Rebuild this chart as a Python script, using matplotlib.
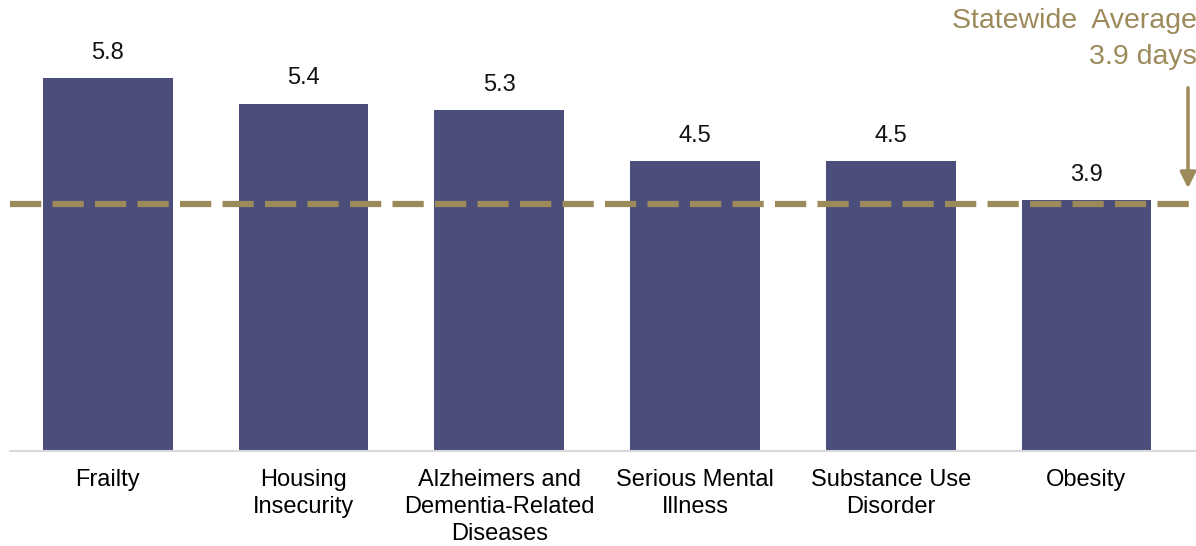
import matplotlib
matplotlib.use("Agg")
import matplotlib.pyplot as plt

categories = ["Frailty", "Housing\nInsecurity", "Alzheimers and\nDementia-Related\nDiseases",
              "Serious Mental\nIllness", "Substance Use\nDisorder", "Obesity"]
values = [5.8, 5.4, 5.3, 4.5, 4.5, 3.9]
state_avg = 3.9

bar_color = "#4B4D7B"
gold = "#9C8A5B"

plt.rcParams['font.family'] = ['Liberation Sans', 'DejaVu Sans']

fig = plt.figure(figsize=(11.96, 5.46), dpi=100)
ax = fig.add_axes([10 / 1196, 95 / 546, 1 - 10 / 1196, 451 / 546])

x = range(len(categories))
bars = ax.bar(x, values, width=0.663, color=bar_color, zorder=2)
for xi, v in zip(x, values):
    ax.text(xi, v + 0.22, f"{v:.1f}", ha="center", va="bottom", fontsize=17, color="#111111")

ax.axhline(state_avg - 0.06, color=gold, linewidth=4.5, dashes=(5, 1.8), zorder=3)

ax.set_xlim(-0.5, 5.56)
ax.set_ylim(0, 7.01)
ax.set_xticks(list(x))
ax.set_xticklabels(categories, fontsize=17, linespacing=1.3)
ax.tick_params(axis="x", length=0, pad=13)
ax.set_yticks([])
for s in ["top", "right", "left"]:
    ax.spines[s].set_visible(False)
ax.spines["bottom"].set_color("#D9D9D9")
ax.spines["bottom"].set_linewidth(1.5)

fig.text(1197 / 1196, 1 - 8 / 546, "Statewide  Average\n3.9 days", ha="right", va="top",
         fontsize=20.5, color=gold, linespacing=1.5)
ax.annotate("", xy=(1188 / 1196, 1 - 191 / 546), xytext=(1188 / 1196, 1 - 85 / 546),
            xycoords="figure fraction", textcoords="figure fraction",
            arrowprops=dict(arrowstyle="-|>", color=gold, lw=2.5, mutation_scale=24))

fig.savefig("out.png", dpi=100)
